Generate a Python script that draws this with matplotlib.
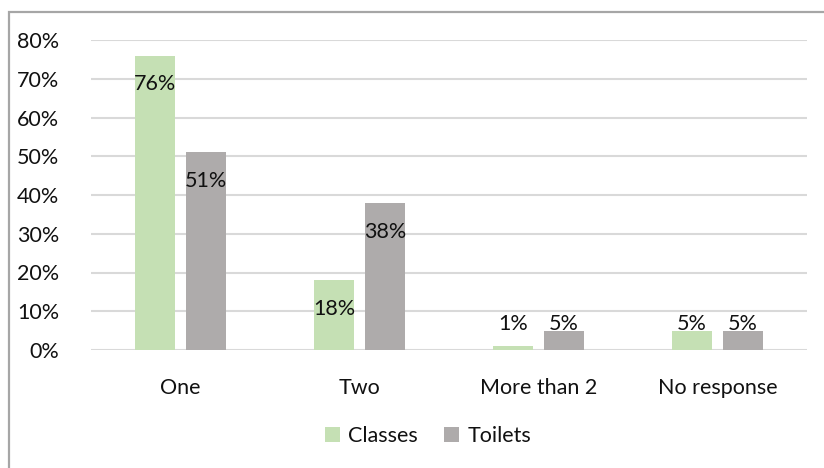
import numpy as np
import matplotlib.pyplot as plt
from matplotlib.patches import Rectangle
from matplotlib.ticker import PercentFormatter

plt.rcParams['font.family'] = ['Lato', 'DejaVu Sans']

categories = ['One', 'Two', 'More than 2', 'No response']
classes = [76, 18, 1, 5]
toilets = [51, 38, 5, 5]
series_names = ['Classes', 'Toilets']

green = '#c5e0b4'
grey = '#aeabab'
text_col = '#111111'
fs = 15.5

fig = plt.figure(figsize=(8.24, 4.68), dpi=100)
ax = fig.add_axes([91 / 824, 1 - 350 / 468, 716 / 824, 310 / 468])

# outer chart frame, runs off the right and bottom edges
fig.patches.append(Rectangle((9 / 824, -0.1), 1.2, 1 - 12 / 468 + 0.1,
                             transform=fig.transFigure, fill=False,
                             edgecolor='#a6a6a6', linewidth=1.6))

x = np.arange(len(categories))
w = 0.2235
off = 0.1425
b1 = ax.bar(x - off, classes, w, color=green, label=series_names[0], zorder=3)
b2 = ax.bar(x + off, toilets, w, color=grey, label=series_names[1], zorder=3)

# labels sit inside the tall bars and just above the short ones
for bars, vals in ((b1, classes), (b2, toilets)):
    for rect, v in zip(bars, vals):
        cx = rect.get_x() + rect.get_width() / 2
        if v >= 10:
            ax.annotate(f'{v}%', (cx, v), xytext=(0, -29), textcoords='offset pixels',
                        ha='center', va='center', fontsize=fs, color=text_col, zorder=4)
        else:
            ax.annotate(f'{v}%', (cx, max(v, 5)), xytext=(0, 7), textcoords='offset pixels',
                        ha='center', va='center', fontsize=fs, color=text_col, zorder=4)

ax.set_xlim(-0.5, len(categories) - 0.5)
ax.set_ylim(0, 80)
ax.set_yticks(np.arange(0, 81, 10))
ax.yaxis.set_major_formatter(PercentFormatter(decimals=0))
ax.set_xticks(x)
ax.set_xticklabels(categories)
ax.tick_params(axis='both', length=0, labelsize=fs, labelcolor=text_col)
ax.tick_params(axis='y', pad=23)
ax.tick_params(axis='x', pad=20)
ax.grid(axis='y', color='#d9d9d9', linewidth=1.5, zorder=0)
ax.set_axisbelow(True)
for s in ax.spines.values():
    s.set_visible(False)

fig.legend(loc='center', bbox_to_anchor=(428 / 824, 1 - 436 / 468), ncol=2,
           frameon=False, fontsize=fs, handlelength=0.7, handleheight=0.7,
           handletextpad=0.4, columnspacing=1.2, labelcolor=text_col)

fig.savefig('out.png', dpi=100)
